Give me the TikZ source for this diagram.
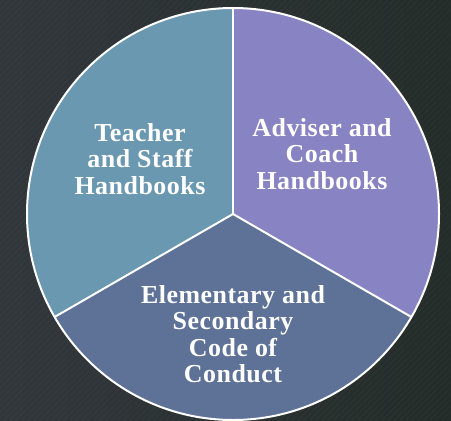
\documentclass[tikz,border=0pt]{standalone}
\usepackage{fontspec}
\setmainfont{Liberation Serif}[LetterSpace=2]
\begin{document}
\begin{tikzpicture}[x=1bp,y=1bp,
  lbl/.style={text=white, align=center, inner sep=0pt,
    font=\bfseries\fontsize{26}{26.5}\selectfont},
  divider/.style={draw=white, line width=2bp}]
\definecolor{bgL}{HTML}{30353A}
\definecolor{bgR}{HTML}{222B27}
\definecolor{cTeach}{HTML}{6A98B0}
\definecolor{cAdv}{HTML}{8884C4}
\definecolor{cCode}{HTML}{5E7197}
\useasboundingbox (0,0) rectangle (451,420);
\shade[left color=bgL, right color=bgR] (0,0) rectangle (451,420);
\begin{scope}
\clip (0,0) rectangle (451,420);
\foreach \k in {-500,-494,...,460}{
  \draw[white, opacity=0.025, line width=2.5bp] (\k,0) -- ++(420,420);
}
\end{scope}
\coordinate (c) at (233,206);
\def\R{206}
\fill[cTeach] (c) -- ++(90:\R) arc[start angle=90, end angle=210, radius=\R] -- cycle;
\fill[cAdv] (c) -- ++(-30:\R) arc[start angle=-30, end angle=90, radius=\R] -- cycle;
\fill[cCode] (c) -- ++(210:\R) arc[start angle=210, end angle=330, radius=\R] -- cycle;
\coordinate (p1) at ([shift={(90:\R)}]c);
\coordinate (p2) at ([shift={(210:\R)}]c);
\coordinate (p3) at ([shift={(330:\R)}]c);
\draw[divider] (c) -- (p1);
\draw[divider] (c) -- (p2);
\draw[divider] (c) -- (p3);
\draw[divider] (c) circle[radius=\R];
\node[lbl] (teach) at (140,261) {Teacher\\and Staff\\Handbooks};
\node[lbl] (adv) at (322,266) {Adviser and\\Coach\\Handbooks};
\node[lbl] (code) at (233,86) {Elementary and\\Secondary\\Code of\\Conduct};
\end{tikzpicture}
\end{document}
